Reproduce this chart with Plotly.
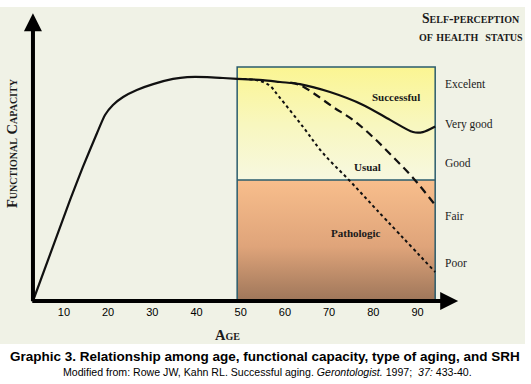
import plotly.graph_objects as go

# ---------------- data ----------------
growth_age = [3, 11.4, 14.3, 17.5, 19.3, 21.1, 23.4, 26.5, 30.2, 34.7, 37.9, 42.4, 46.0, 49.2]
growth_cap = [0, 43.2, 57.3, 71.8, 79.5, 83.8, 87.2, 90.2, 92.7, 94.9, 95.7, 95.7, 95.3, 94.9]

successful_age = [49.2, 55.0, 58.9, 63.4, 70.2, 77.7, 83.8, 89.0, 91.2, 94.0]
successful_cap = [94.9, 94.4, 93.6, 92.7, 89.3, 83.8, 77.4, 72.2, 72.2, 74.6]

usual_age = [61.2, 63.4, 66.4, 70.9, 75.4, 79.9, 84.5, 89.0, 94.0]
usual_cap = [93.3, 92.3, 88.9, 82.9, 77.4, 70.1, 61.5, 52.6, 41.0]

pathologic_age = [49.2, 53.5, 56.4, 58.7, 64.1, 68.6, 74.5, 80.8, 94.0]
pathologic_cap = [94.9, 94.4, 92.3, 87.2, 74.4, 63.2, 51.7, 38.9, 12.4]

box_age = [49.2, 94.0]
box_cap_top = 100
box_cap_split = 51.7

srh_labels = ["Excelent", "Very good", "Good", "Fair", "Poor"]
srh_cap = [92.7, 75.6, 59.0, 36.3, 16.2]

aging_labels = ["Successful", "Usual", "Pathologic"]
aging_age = [85.1, 78.6, 76.1]
aging_cap = [87.2, 57.3, 29.1]

tick_vals = [10, 20, 30, 40, 50, 60, 70, 80, 90]
tick_text = ["10", "20", "30", "40", "50", "60", "70", "80", "90"]

# ---------------- figure ----------------
W, H = 531, 384
X_RANGE = [(0 - 19.7) / 4.42, (W - 19.7) / 4.42]
Y_RANGE = [(301 - H) / 2.34, 301 / 2.34]


def px_x(rx):
    return rx / W


def px_y(ry):
    return (H - ry) / H


fig = go.Figure()

x0, x1 = box_age
# upper (yellow) zone
fig.add_trace(go.Scatter(
    x=[x0, x1, x1, x0, x0],
    y=[box_cap_split, box_cap_split, box_cap_top, box_cap_top, box_cap_split],
    fill="toself", mode="none", hoverinfo="skip",
    fillgradient=dict(type="vertical",
                      colorscale=[[0, "#F7F8E0"], [0.5, "#F8F7BE"], [1, "#FBF592"]]),
))
# lower (peach -> brown) zone
fig.add_trace(go.Scatter(
    x=[x0, x1, x1, x0, x0],
    y=[0, 0, box_cap_split, box_cap_split, 0],
    fill="toself", mode="none", hoverinfo="skip",
    fillgradient=dict(type="vertical",
                      colorscale=[[0, "#9E765A"], [0.45, "#DFA47A"], [1, "#F8BE8C"]]),
))
# box borders
fig.add_trace(go.Scatter(
    x=[x0, x0, x1, x1], y=[0, box_cap_top, box_cap_top, 0],
    mode="lines", line=dict(color="#2A5C6C", width=1.5), hoverinfo="skip"))
fig.add_trace(go.Scatter(
    x=[x0, x1], y=[box_cap_split, box_cap_split],
    mode="lines", line=dict(color="#2A5C6C", width=1.5), hoverinfo="skip"))

# curves
fig.add_trace(go.Scatter(x=pathologic_age, y=pathologic_cap, mode="lines",
                         line=dict(color="#111111", width=2, dash="dot", shape="spline"),
                         hoverinfo="skip"))
fig.add_trace(go.Scatter(x=usual_age, y=usual_cap, mode="lines",
                         line=dict(color="#111111", width=2.2, dash="8px,5px", shape="spline"),
                         hoverinfo="skip"))
fig.add_trace(go.Scatter(x=growth_age, y=growth_cap, mode="lines",
                         line=dict(color="#111111", width=2.2, shape="spline", smoothing=0.6),
                         hoverinfo="skip"))
fig.add_trace(go.Scatter(x=successful_age, y=successful_cap, mode="lines",
                         line=dict(color="#111111", width=2.2, shape="spline", smoothing=0.8),
                         hoverinfo="skip"))

annotations = []
# axis arrows
annotations.append(dict(x=3.0, y=123.0, ax=3.0, ay=-0.8, xref="x", yref="y", axref="x", ayref="y",
                        text="", showarrow=True, arrowhead=2, arrowsize=0.9, arrowwidth=4,
                        arrowcolor="#000000", standoff=0, startstandoff=0))
annotations.append(dict(x=99.2, y=0, ax=2.5, ay=0, xref="x", yref="y", axref="x", ayref="y",
                        text="", showarrow=True, arrowhead=2, arrowsize=0.9, arrowwidth=4,
                        arrowcolor="#000000", standoff=0, startstandoff=0))

serif = "Liberation Serif, Times New Roman, serif"
sans = "Liberation Sans, Arial, sans-serif"

for lab, c in zip(srh_labels, srh_cap):
    annotations.append(dict(x=95.8, y=c, xref="x", yref="y", text=lab, showarrow=False,
                            xanchor="left", yanchor="middle",
                            font=dict(family=serif, size=11.5, color="#1a1a1a")))
for lab, a, c in zip(aging_labels, aging_age, aging_cap):
    annotations.append(dict(x=a, y=c, xref="x", yref="y", text="<b>" + lab + "</b>",
                            showarrow=False, xanchor="center", yanchor="middle",
                            font=dict(family=serif, size=11, color="#1a1a1a")))

annotations.append(dict(x=px_x(471), y=px_y(19), xref="paper", yref="paper",
                        text="<b>Self-perception</b>", showarrow=False,
                        xanchor="center", yanchor="middle",
                        font=dict(family=serif, size=13.7, color="#1a1a1a", variant="small-caps")))
annotations.append(dict(x=px_x(471), y=px_y(37), xref="paper", yref="paper",
                        text="<b>of health  status</b>", showarrow=False,
                        xanchor="center", yanchor="middle",
                        font=dict(family=serif, size=13.9, color="#1a1a1a", variant="small-caps")))
annotations.append(dict(x=px_x(12), y=px_y(143), xref="paper", yref="paper",
                        text="<b>Functional Capacity</b>", showarrow=False, textangle=-90,
                        xanchor="center", yanchor="middle",
                        font=dict(family=serif, size=14.5, color="#1a1a1a", variant="small-caps")))
annotations.append(dict(x=px_x(227), y=px_y(335), xref="paper", yref="paper",
                        text="<b>Age</b>", showarrow=False,
                        xanchor="center", yanchor="middle",
                        font=dict(family=serif, size=14.5, color="#1a1a1a", variant="small-caps")))
annotations.append(dict(x=px_x(265), y=px_y(356), xref="paper", yref="paper",
                        text="<b>Graphic 3. Relationship among age, functional capacity, type of aging, and SRH</b>",
                        showarrow=False, xanchor="center", yanchor="middle",
                        font=dict(family=sans, size=13.5, color="#000000")))
annotations.append(dict(x=px_x(267), y=px_y(372), xref="paper", yref="paper",
                        text="Modified from: Rowe JW, Kahn RL. Successful aging. <i>Gerontologist.</i> 1997;  <i>37:</i> 433-40.",
                        showarrow=False, xanchor="center", yanchor="middle",
                        font=dict(family=sans, size=10.6, color="#000000")))

shapes = [dict(type="rect", xref="paper", yref="paper", x0=0, x1=px_x(525),
               y0=px_y(344), y1=px_y(7), layer="below",
               fillcolor="#F0F2E6", line=dict(width=0))]

fig.update_layout(
    width=W, height=H,
    margin=dict(l=0, r=0, t=0, b=0),
    paper_bgcolor="#FFFFFF", plot_bgcolor="rgba(0,0,0,0)",
    showlegend=False,
    hovermode=False,
    xaxis=dict(range=X_RANGE, domain=[0, 1], anchor="free", position=px_y(301),
               showgrid=False, zeroline=False, showline=False, ticks="",
               tickmode="array", tickvals=tick_vals, ticktext=tick_text,
               ticklabelstandoff=3,
               tickfont=dict(family=sans, size=11, color="#000000"), fixedrange=True),
    yaxis=dict(range=Y_RANGE, domain=[0, 1], visible=False, fixedrange=True),
    annotations=annotations,
    shapes=shapes,
)

# remove the default 8px page margin so the figure fills the window exactly
fig.write_html("out.html", config=dict(displayModeBar=False, staticPlot=True),
               post_script="document.body.style.margin='0px';")
